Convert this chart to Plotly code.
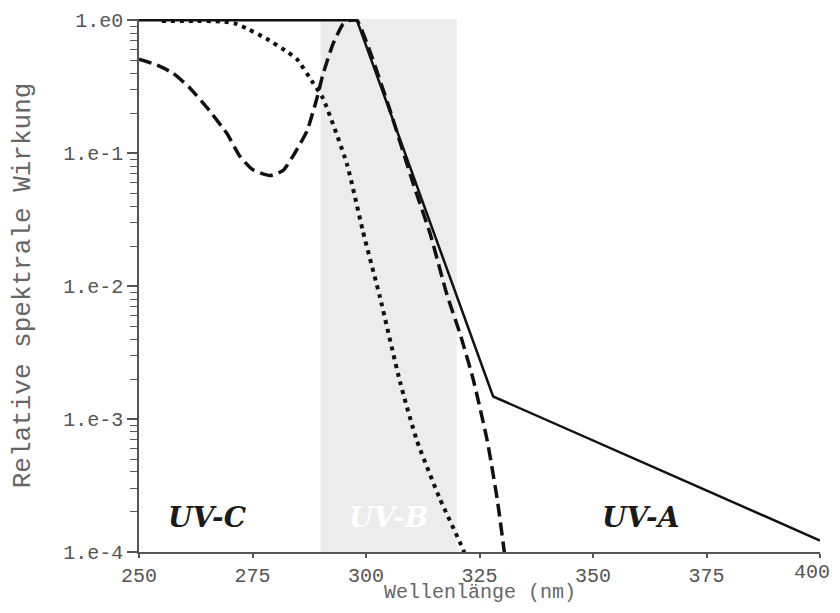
import plotly.graph_objects as go

# Wirkungsspektren
solid_nm = [250, 298, 328, 400]
solid_val = [1.0, 1.0, 1.48e-3, 1.22e-4]

dotted_nm = [255, 262, 268, 271, 274, 278, 282.6, 284.8, 288.3, 290.5, 295.8,
             299.3, 303.1, 307.5, 311.2, 316.3, 321.4, 323]
dotted_val = [0.99, 0.99, 0.98, 0.95, 0.86, 0.73, 0.58, 0.51, 0.34, 0.26, 0.083,
              0.026, 0.0082, 0.0019, 6.9e-4, 2.5e-4, 1.04e-4, 7e-5]

dashed_nm = [250, 254, 257.5, 261.2, 265, 269.4, 272.2, 275.1, 278.9, 281.7, 284.3,
             287, 289.2, 290.5, 292.7, 294.9, 296.5, 298, 300.9, 305.3, 310.4,
             314.1, 317.8, 320.7, 323.6, 326.7, 328.9, 330.4, 331]
dashed_val = [0.51, 0.46, 0.40, 0.31, 0.22, 0.14, 0.095, 0.075, 0.068, 0.074, 0.10,
              0.147, 0.26, 0.39, 0.66, 0.93, 1.0, 1.0, 0.58, 0.21, 0.059,
              0.025, 0.0087, 0.0044, 0.0020, 6.9e-4, 2.5e-4, 1.04e-4, 7e-5]

uvb_band = [290, 320]
band_labels = ["UV-C", "UV-B", "UV-A"]
band_label_nm = [265, 305, 360.5]

x_tickvals = [250, 275, 300, 325, 350, 375, 400]
x_ticktext = ["250", "275", "300", "325", "350", "375", ""]
y_tickvals = [1, 0.1, 0.01, 0.001, 0.0001]
y_ticktext = ["1.e0", "1.e-1", "1.e-2", "1.e-3", "1.e-4"]

mono = "Liberation Mono, Courier New, monospace"

fig = go.Figure()

fig.add_vrect(x0=uvb_band[0], x1=uvb_band[1], fillcolor="#ececec",
              line_width=0, layer="below")

fig.add_trace(go.Scatter(x=dotted_nm, y=dotted_val, mode="lines",
                         line=dict(color="#111", width=4, dash="4px,5px", shape="spline", smoothing=0.5)))
fig.add_trace(go.Scatter(x=dashed_nm, y=dashed_val, mode="lines",
                         line=dict(color="#111", width=3.5, dash="13px,6px", shape="spline", smoothing=0.5)))
fig.add_trace(go.Scatter(x=solid_nm, y=solid_val, mode="lines",
                         line=dict(color="#111", width=2.5)))

for name, nm in zip(band_labels, band_label_nm):
    fig.add_annotation(x=nm, y=-3.74, xref="x", yref="y", text="<b><i>" + name + "</i></b>",
                       showarrow=False,
                       font=dict(family="DejaVu Serif, serif", size=28,
                                 color="white" if name == "UV-B" else "#1a1a1a"))

# letzte Tickbeschriftung rechtsbündig, sonst am Rand abgeschnitten
fig.add_annotation(x=x_tickvals[-1], y=0, xref="x", yref="paper", xanchor="right",
                   yanchor="top", xshift=12, yshift=-7, showarrow=False, text="400",
                   font=dict(family=mono, size=20, color="#555"))

# x-Achsentitel als Annotation, damit er nicht von den Rändern verschoben wird
fig.add_annotation(x=0.5, y=0, xref="paper", yref="paper", yanchor="top",
                   yshift=-27, showarrow=False, text="Wellenlänge (nm)",
                   font=dict(family=mono, size=20, color="#666"))

fig.update_xaxes(range=[250, 400], tickvals=x_tickvals, ticktext=x_ticktext,
                 ticks="outside", ticklen=4, tickwidth=1.5, tickcolor="#555",
                 showline=True, linecolor="#555", linewidth=1.5, showgrid=False,
                 zeroline=False, automargin=False,
                 tickfont=dict(family=mono, size=20, color="#555"))
fig.update_yaxes(type="log", range=[-4, 0.01], tickvals=y_tickvals, ticktext=y_ticktext,
                 ticks="outside", ticklen=10, tickwidth=1.5, tickcolor="#555",
                 minor=dict(ticks="outside", ticklen=7, tickcolor="#555", tickwidth=1, dtick="D1"),
                 showline=True, linecolor="#555", linewidth=1.5, showgrid=False,
                 zeroline=False, automargin=False,
                 tickfont=dict(family=mono, size=20, color="#555"),
                 title=dict(text="Relative spektrale Wirkung", standoff=32,
                            font=dict(family=mono, size=26, color="#666")))

# the page body adds an 8px margin, so the figure is sized to fit the window
fig.update_layout(
    width=824, height=597,
    margin=dict(l=131, r=12, t=11, b=53),
    paper_bgcolor="white", plot_bgcolor="white",
    showlegend=False,
)

fig.write_html("out.html")
